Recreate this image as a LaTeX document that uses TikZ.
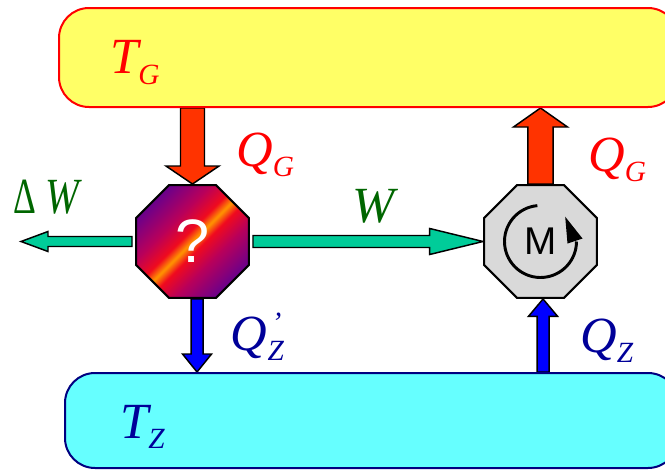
\documentclass[tikz,border=0pt]{standalone}
\usepackage{fontspec}
\setmainfont{Liberation Serif}
\newfontfamily\labsans{Liberation Sans}
\usepackage{tikz}
\usetikzlibrary{arrows.meta,calc,shapes.geometric,backgrounds}
\usepackage{xcolor}

\definecolor{hotfill}{HTML}{FFFF66}
\definecolor{coldfill}{HTML}{66FFFF}
\definecolor{coldline}{HTML}{000080}
\definecolor{heatred}{HTML}{FF3300}
\definecolor{workgreen}{HTML}{00CC99}
\definecolor{labgreen}{HTML}{006600}
\definecolor{labblue}{HTML}{000099}
\definecolor{motorgray}{HTML}{D9D9D9}
\definecolor{qpurple}{RGB}{105,0,140}
\definecolor{qmagenta}{RGB}{185,0,90}
\definecolor{qred}{RGB}{240,10,30}
\definecolor{qorange}{RGB}{255,150,0}

\pgfdeclarehorizontalshading{qshade}{100bp}{color(0bp)=(qpurple); color(25bp)=(qpurple); color(38bp)=(qmagenta); color(46bp)=(qred); color(50bp)=(qorange); color(54bp)=(qred); color(62bp)=(qmagenta); color(75bp)=(qpurple); color(100bp)=(qpurple)}

\newcommand{\sub}[1]{\raisebox{-0.2em}{\fontsize{22}{22}\selectfont #1}}

\begin{document}
\begin{tikzpicture}[x=0.75pt,y=-0.75pt,line join=miter,
  lab/.style={anchor=base west,inner sep=0pt,font=\fontsize{38}{40}\selectfont\itshape},
  bath/.style={rectangle,rounded corners=22.5pt,line width=1.5pt,inner sep=0pt},
  octa/.style={regular polygon,regular polygon sides=8,minimum size=91.7pt,inner sep=0pt,draw=black,line width=1.5pt},
  fat/.style n args={3}{to path={
    ($(\tikztostart)!#1!90:(\tikztotarget)$)
    -- ($($(\tikztotarget)!#3!(\tikztostart)$)!#1!90:(\tikztotarget)$)
    -- ($($(\tikztotarget)!#3!(\tikztostart)$)!#2!90:(\tikztotarget)$)
    -- (\tikztotarget)
    -- ($($(\tikztotarget)!#3!(\tikztostart)$)!#2!-90:(\tikztotarget)$)
    -- ($($(\tikztotarget)!#3!(\tikztostart)$)!#1!-90:(\tikztotarget)$)
    -- ($(\tikztostart)!#1!-90:(\tikztotarget)$) -- cycle}},
  heatarrow/.style={draw=black,line width=1.1pt,fill=heatred},
  coldarrow/.style={draw=black,line width=1.1pt,fill=blue},
  workarrow/.style={draw=black,line width=1.1pt,fill=workgreen}]
\useasboundingbox (0,0) rectangle (665,471);
\clip (0,0) rectangle (665,471);

% reservoirs
\node[bath,draw=red,fill=hotfill,minimum width=464.25pt,minimum height=74.25pt] (hot) at (368.5,57.5) {};
\node[bath,draw=coldline,fill=coldfill,minimum width=459.75pt,minimum height=71.25pt] (cold) at (371.5,420.5) {};

% machines
\node[octa,shade,shading=qshade,shading angle=-45,text=white,font=\labsans\fontsize{46}{46}\selectfont] (engine) at (192.5,241.5) {?};
\node[octa,fill=motorgray,font=\labsans\fontsize{29}{29}\selectfont] (motor) at (540.5,241.5) {M};
\draw[line width=2.2pt] ([shift={(-95:36)}]motor.center) arc[start angle=-95,end angle=-360,radius=36];
\fill ([shift={(24.7,-24.8)}]motor.center) -- ([shift={(42,-3)}]motor.center) -- ([shift={(27,2)}]motor.center) -- cycle;

\coordinate (qzs) at ([xshift=3.4pt]engine.south);
\coordinate (qzm) at ([xshift=1.9pt]motor.south);
\coordinate (dwtip) at (21,241.5);

% heat and work flows
\begin{scope}[on background layer]
\draw[heatarrow,fat={9pt}{19.9pt}{13.5pt}] (hot.south -| engine.north) to (engine.north);
\draw[heatarrow,fat={9.4pt}{20.25pt}{14.25pt}] (motor.north) to (hot.south -| motor.north);
\draw[coldarrow,fat={4.5pt}{10.9pt}{13.5pt}] (qzs) to (qzs |- cold.north);
\draw[coldarrow,fat={4.5pt}{10.9pt}{13pt}] (qzm |- cold.north) to (qzm);
\draw[workarrow,fat={3.75pt}{7.5pt}{20.25pt}] ([xshift=-2.25pt]engine.west) to (dwtip);
\draw[workarrow,fat={4.5pt}{9.75pt}{40pt}] ([xshift=2.25pt]engine.east) to (motor.west);
\end{scope}

% labels
\node[lab,text=red] (tg) at (110,74) {T\sub{G}};
\node[lab,text=labblue] (tz) at (120,438) {T\sub{Z}};
\node[lab,text=red] (qgl) at (236,166) {Q\sub{G}};
\node[lab,text=red] (qgr) at (588,171) {Q\sub{G}};
\node[lab,text=labblue] (qzl) at (230,350) {Q\rlap{\raisebox{13pt}{\fontsize{22}{22}\selectfont\,'}}\kern0.5pt\sub{Z}};
\node[lab,text=labblue] (qzr) at (580,352) {Q\sub{Z}};
\node[lab,text=labgreen] (dw) at (13,213) {\scalebox{0.7}[1]{\upshape Δ}\kern7pt\scalebox{0.8}[1]{W}};
\node[lab,text=labgreen] (w) at (352,222) {W};
\end{tikzpicture}
\end{document}
